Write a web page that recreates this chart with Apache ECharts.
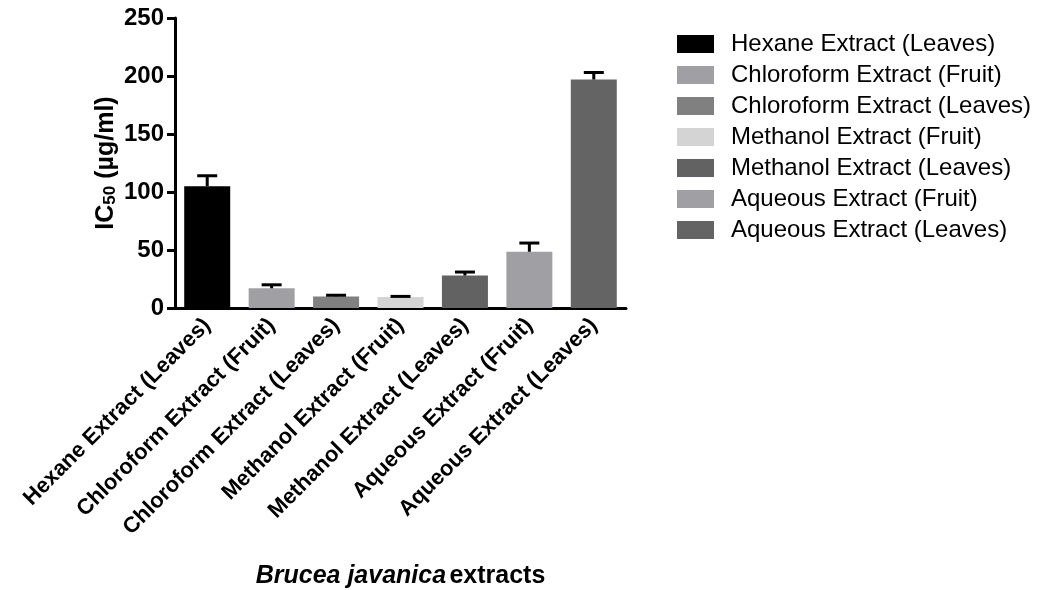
<!DOCTYPE html>
<html>
<head>
<meta charset="utf-8">
<script src="https://cdn.jsdelivr.net/npm/echarts@6/dist/echarts.min.js"></script>
<style>
  html, body { margin: 0; padding: 0; background: #fff; }
  #chart { width: 1037px; height: 590px; }
</style>
</head>
<body>
<div id="chart"></div>
<script>
const categories = [
  'Hexane Extract (Leaves)',
  'Chloroform Extract (Fruit)',
  'Chloroform Extract (Leaves)',
  'Methanol Extract (Fruit)',
  'Methanol Extract (Leaves)',
  'Aqueous Extract (Fruit)',
  'Aqueous Extract (Leaves)'
]
const ic50Values = [105, 17, 10, 9.5, 28, 48.5, 197]
const errorTops = [114, 20, 11, 10, 31, 56, 203]
const barColors = ['#000000', '#a0a0a4', '#808080', '#d4d4d4', '#626262', '#a0a0a4', '#646464']
const yTicks = [0, 50, 100, 150, 200, 250]

const font = 'Liberation Sans, Arial, sans-serif'
const axisColor = '#000'

const chart = echarts.init(document.getElementById('chart'))

// one series per extract so each gets its own legend entry
const barSeries = categories.map((name, i) => {
  return {
    name,
    type: 'bar',
    barWidth: 46,
    barGap: '-100%',
    itemStyle: { color: barColors[i] },
    data: categories.map((c, j) => (j === i ? ic50Values[i] : '-'))
  }
})

// upper error bars with a cap
const errorSeries = {
  type: 'custom',
  name: 'error',
  z: 5,
  data: categories.map((c, i) => [i, ic50Values[i], errorTops[i]]),
  renderItem(params, api) {
    const base = api.coord([api.value(0), api.value(1)])
    const top = api.coord([api.value(0), api.value(2)])
    const half = 10
    const style = { stroke: '#000', lineWidth: 3 }
    return {
      type: 'group',
      children: [
        { type: 'line', shape: { x1: base[0], y1: base[1], x2: top[0], y2: top[1] }, style },
        { type: 'line', shape: { x1: top[0] - half, y1: top[1], x2: top[0] + half, y2: top[1] }, style }
      ]
    }
  }
}

const option = {
  animation: false,
  textStyle: { fontFamily: font },
  grid: { left: 175, top: 18, width: 451, height: 290, containLabel: false, outerBoundsMode: 'none' },
  legend: {
    data: categories,
    orient: 'vertical',
    left: 672,
    top: 27,
    icon: 'rect',
    itemWidth: 37,
    itemHeight: 18,
    itemGap: 7,
    selectedMode: false,
    textStyle: { fontFamily: font, fontSize: 24, color: '#000', lineHeight: 24, padding: [0, 0, 0, 12] }
  },
  xAxis: {
    type: 'category',
    data: categories,
    axisLine: { lineStyle: { color: axisColor, width: 3 } },
    axisTick: { alignWithLabel: true, length: 8, lineStyle: { color: axisColor, width: 3 } },
    axisLabel: {
      interval: 0,
      rotate: 45,
      margin: 14,
      color: '#000',
      fontWeight: 'bold',
      fontSize: 22,
      fontFamily: font
    },
    name: '{i|Brucea javanica} {b|extracts}',
    nameLocation: 'middle',
    nameGap: 256,
    nameTextStyle: {
      rich: {
        i: { fontStyle: 'italic', fontWeight: 'bold', fontSize: 25, fontFamily: font, color: '#000' },
        b: { fontWeight: 'bold', fontSize: 25, fontFamily: font, color: '#000' }
      }
    }
  },
  yAxis: {
    type: 'value',
    min: yTicks[0],
    max: yTicks[yTicks.length - 1],
    interval: 50,
    splitLine: { show: false },
    axisLine: { show: true, lineStyle: { color: axisColor, width: 3 } },
    axisTick: { show: true, length: 8, lineStyle: { color: axisColor, width: 3 } },
    axisLabel: { color: '#000', fontWeight: 'bold', fontSize: 24, fontFamily: font, margin: 11 },
    name: '{b|IC}{s|50}{b| (µg/ml)}',
    nameLocation: 'middle',
    nameGap: 56,
    nameRotate: 90,
    nameTextStyle: {
      rich: {
        b: { fontWeight: 'bold', fontSize: 25, fontFamily: font, color: '#000' },
        s: { fontWeight: 'bold', fontSize: 17, fontFamily: font, color: '#000', verticalAlign: 'bottom', padding: [9, 0, 0, 0] }
      }
    }
  },
  series: [...barSeries, errorSeries]
}

chart.setOption(option)
</script>
</body>
</html>
